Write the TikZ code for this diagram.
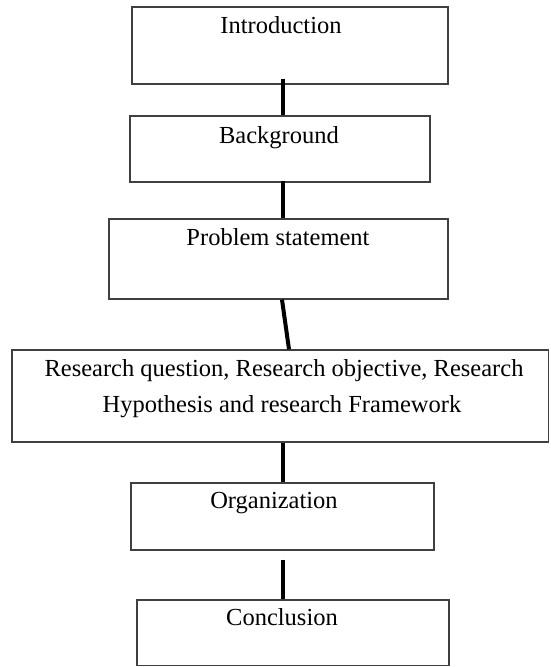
\documentclass[tikz,border=0pt]{standalone}
\usepackage{fontspec}
\setmainfont{Liberation Serif}
\usetikzlibrary{fit,calc}
\begin{document}
\begin{tikzpicture}[x=1pt,y=-1pt,
  box/.style={draw=black!75, line width=1.3pt, inner sep=0pt},
  lbl/.style={anchor=base, font=\fontsize{24.5}{36}\selectfont, inner sep=0pt},
  conn/.style={line width=4pt, black}]
\useasboundingbox (0,0) rectangle (550,667);
\node[box, fit={(132,7)(448,84)}] (intro) {};
\node[box, fit={(130,116)(430,182)}] (bg) {};
\node[box, fit={(109,219)(448,299)}] (prob) {};
\node[box, fit={(12,350)(548.5,442)}] (rq) {};
\node[box, fit={(131,483)(434,550)}] (org) {};
\node[box, fit={(137,600)(449,665.5)}] (concl) {};
\node[lbl] (introT) at (281,33) {Introduction};
\node[lbl] (bgT) at (279,143) {Background};
\node[lbl] (probT) at (278,245) {Problem statement};
\node[lbl] (rqT1) at (284,376) {Research question, Research objective, Research};
\node[lbl] (rqT2) at (282,412) {Hypothesis and research Framework};
\node[lbl] (orgT) at (274,508) {Organization};
\node[lbl] (conclT) at (282,625) {Conclusion};
\coordinate (spine) at (283,0);
\draw[conn, shorten <=-6pt] (intro.south -| spine) -- (bg.north -| spine);
\draw[conn, shorten <=-2pt] (bg.south -| spine) -- (prob.north -| spine);
\draw[conn] ($(prob.south -| spine)+(-1,0)$) -- ($(rq.north -| spine)+(6,0)$);
\draw[conn] (rq.south -| spine) -- (org.north -| spine);
\draw[conn, shorten <=9pt] (org.south -| spine) -- (concl.north -| spine);
\end{tikzpicture}
\end{document}
